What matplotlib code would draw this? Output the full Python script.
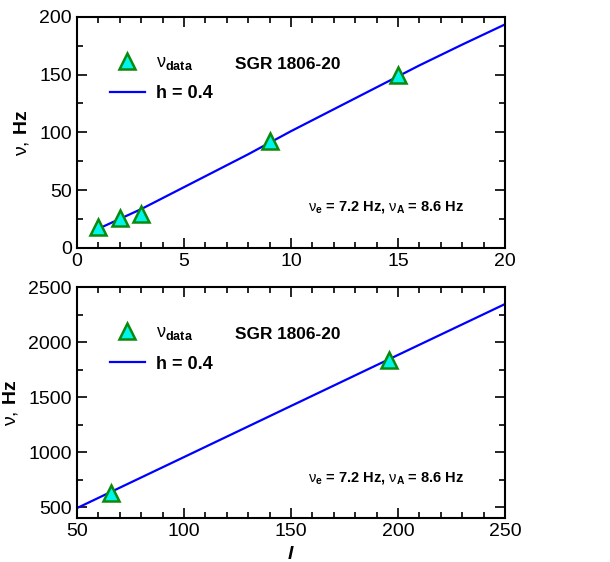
import matplotlib.pyplot as plt
from matplotlib.ticker import MultipleLocator

plt.rcParams['font.family'] = ['Liberation Sans', 'DejaVu Sans']
plt.rcParams['mathtext.fontset'] = 'custom'
plt.rcParams['mathtext.rm'] = 'Liberation Sans'
plt.rcParams['mathtext.bf'] = 'Liberation Sans:bold'
plt.rcParams['mathtext.it'] = 'Liberation Sans:italic:bold'

# observed QPO frequencies of SGR 1806-20
l_low = [1, 2, 3, 9, 15]
nu_low = [18, 26, 29, 92.5, 150]
l_high = [66, 196]
nu_high = [625, 1840]

# model curve h = 0.4
l_model_low = [1, 2, 3, 4, 5, 6, 8, 10, 12, 14, 16, 18, 20]
nu_model_low = [16.5, 25, 33.5, 43, 52.5, 62, 81, 101, 120, 139, 158, 176, 193.5]
l_model_high = [50, 100, 150, 200, 250]
nu_model_high = [491, 955, 1420, 1884, 2347]

fig = plt.figure(figsize=(6.1, 5.62), dpi=100)
ax1 = fig.add_axes([0.126, 0.559, 0.702, 0.411])
ax2 = fig.add_axes([0.126, 0.078, 0.702, 0.411])


def style_axes(ax, xmaj, xmin, ymaj, ymin):
    ax.xaxis.set_major_locator(MultipleLocator(xmaj))
    ax.xaxis.set_minor_locator(MultipleLocator(xmin))
    ax.yaxis.set_major_locator(MultipleLocator(ymaj))
    ax.yaxis.set_minor_locator(MultipleLocator(ymin))
    ax.tick_params(which='both', direction='in', top=True, right=True, labelsize=14, width=1.2)
    ax.tick_params(which='major', length=7)
    ax.tick_params(which='minor', length=4)
    for s in ax.spines.values():
        s.set_linewidth(1.5)
    ax.set_ylabel(r'$\mathrm{\nu,}\,\mathbf{Hz}$', fontsize=14, labelpad=6)


for ax, lm, nm, ld, nd in [(ax1, l_model_low, nu_model_low, l_low, nu_low),
                           (ax2, l_model_high, nu_model_high, l_high, nu_high)]:
    ax.plot(ld, nd, linestyle='none', marker='^', markersize=11, markerfacecolor='#00f4ee',
            markeredgecolor='#0a8a0a', markeredgewidth=1.8, label=r'$\mathrm{\nu}_{\mathbf{data}}$', zorder=3)
    ax.plot(lm, nm, color='#0000ff', lw=1.6, label='h = 0.4')
    leg = ax.legend(loc='upper left', bbox_to_anchor=(0.04, 0.91), frameon=False, fontsize=13,
                    handlelength=1.9, handletextpad=0.65, labelspacing=0.75)
    for t in leg.get_texts():
        t.set_fontweight('bold')
    ax.text(0.37, 0.775, 'SGR 1806-20', transform=ax.transAxes, fontsize=12.4, fontweight='bold')
    ax.text(0.54, 0.16, r'$\mathrm{\nu}_{\mathbf{e}}$ = 7.2 Hz, $\mathrm{\nu}_{\mathbf{A}}$ = 8.6 Hz',
            transform=ax.transAxes, fontsize=10.5, fontweight='bold')

ax1.set_xlim(0, 20)
ax1.set_ylim(0, 200)
style_axes(ax1, 5, 1, 50, 25)

ax2.set_xlim(50, 250)
ax2.set_ylim(400, 2500)
style_axes(ax2, 50, 10, 500, 250)
ax2.set_xlabel(r'$l$', fontsize=14, labelpad=4)

fig.savefig('out.png', dpi=100)
